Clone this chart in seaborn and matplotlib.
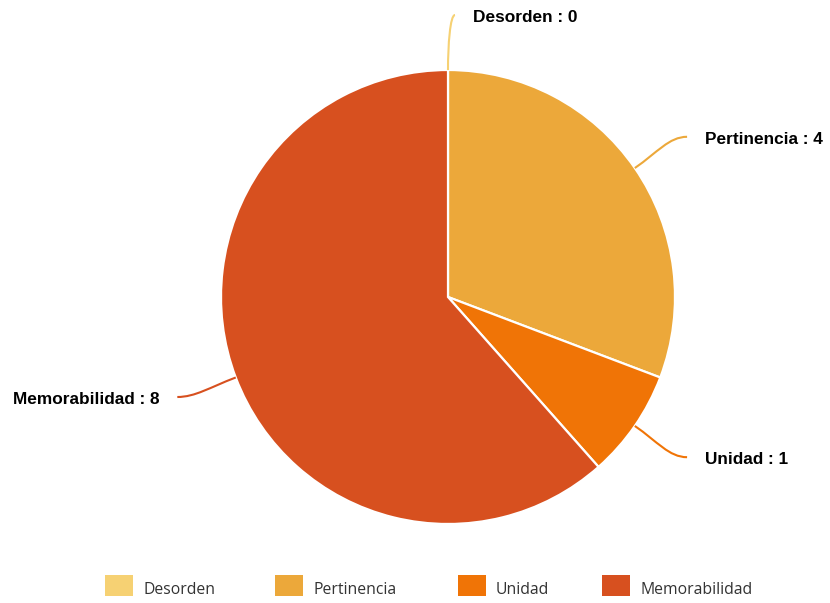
import numpy as np
import matplotlib
matplotlib.use("Agg")
import matplotlib.pyplot as plt
from matplotlib.path import Path
from matplotlib.patches import PathPatch, Rectangle
import seaborn as sns

categories = ["Desorden", "Pertinencia", "Unidad", "Memorabilidad"]
values = [0, 4, 1, 8]
hex_colors = ["#F6D173", "#ECA83A", "#F07406", "#D7501F"]

sns.set_theme(style="white")
plt.rcParams["font.family"] = ["Liberation Sans", "DejaVu Sans"]

W, H = 830, 603
fig = plt.figure(figsize=(W / 100, H / 100), dpi=100)
ax = fig.add_axes([0, 0, 1, 1])
palette = sns.color_palette(hex_colors)

cx, cy, R = 448, H - 297, 227
wedges, _ = ax.pie(values, colors=palette, startangle=90, counterclock=False,
                   center=(cx, cy), radius=R,
                   wedgeprops=dict(edgecolor="white", linewidth=1.6))
ax.set_xlim(0, W)
ax.set_ylim(0, H)
ax.set_aspect("equal")
ax.axis("off")

# data labels with curved connectors
LR = 282
for w, cat, val, col in zip(wedges, categories, values, palette):
    th = np.deg2rad((w.theta1 + w.theta2) / 2)
    u = np.array([np.cos(th), np.sin(th)])
    side = 1 if u[0] >= -1e-9 else -1
    p0 = np.array([cx, cy]) + R * u
    e = np.array([cx, cy]) + LR * u
    e[0] += 7 * side
    dist = np.linalg.norm(e - p0)
    p1 = p0 + u * dist * 0.45
    kx = min(18, 0.7 * abs(e[0] - p0[0]))
    p2 = np.array([e[0] - side * kx, e[1]])
    path = Path([p0, p1, p2, e], [Path.MOVETO, Path.CURVE4, Path.CURVE4, Path.CURVE4])
    ax.add_patch(PathPatch(path, facecolor="none", edgecolor=col, lw=1.5))
    ax.text(e[0] + side * 18, e[1] - 2.5, f"{cat} : {val}",
            ha="left" if side > 0 else "right", va="center",
            fontsize=12.4, fontweight="bold", color="black")

# legend (Highcharts-style, placed item by item)
legend_x = [105, 275, 458, 602]
for lx, cat, col in zip(legend_x, categories, palette):
    ax.add_patch(Rectangle((lx, H - 596), 28, 21, facecolor=col, edgecolor="none",
                           clip_on=False))
    ax.text(lx + 38, H - 594, cat, ha="left", va="baseline",
            family="Open Sans", fontsize=11.3, color="#333333")

fig.savefig("out.png", dpi=100)
